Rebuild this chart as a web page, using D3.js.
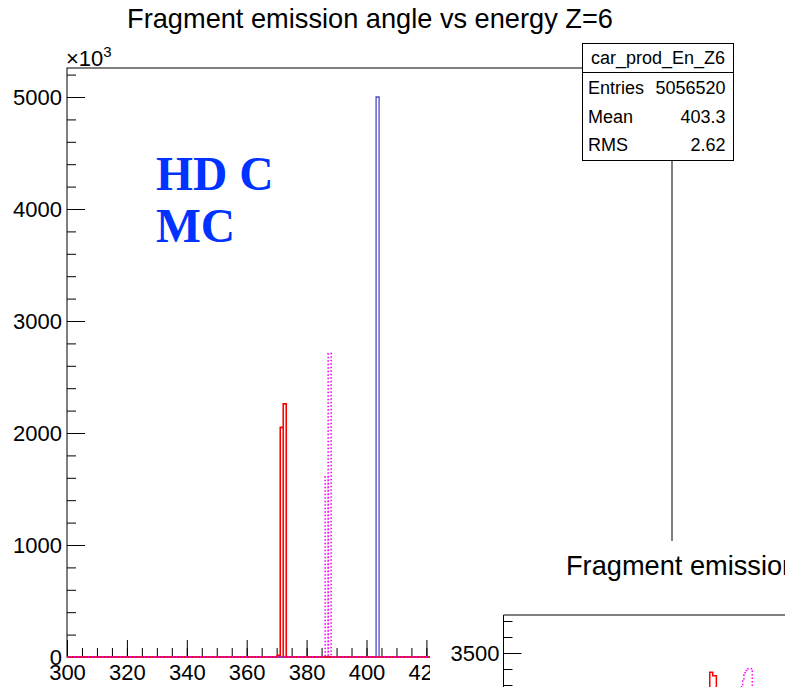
<!doctype html>
<html lang="en">
  <head>
    <meta charset="UTF-8" />
    <title>Fragment emission angle vs energy Z=6</title>
    <script src="https://d3js.org/d3.v7.min.js"></script>
    <style>
      body {
        margin: 0;
        padding: 0;
        background: #ffffff;
      }
      svg {
        display: block;
        font-family: 'Liberation Sans', Arial, sans-serif;
      }
      .tick text {
        font-size: 22px;
        fill: #000000;
      }
      .tick line,
      .domain {
        stroke: #000000;
      }
    </style>
  </head>
  <body>
    <div id="chart"></div>

    <script>
      // Main histogram: x in energy units, counts in thousands (x10^3)
      const xRange = [300, 502]
      const binWidth = 1
      const redBins = [370.2, 371.2, 372.2]
      const redCounts = [15, 2050, 2260]
      const magentaBins = [386.2, 387.2]
      const magentaCounts = [1610, 2710]
      const blueBins = [403.2]
      const blueCounts = [5000]

      // labels right of 420 sit under the second pad, so only these show
      const xTicksMajor = [300, 320, 340, 360, 380, 400, 420, 440, 460, 480, 500]
      const xTickLabels = ['300', '320', '340', '360', '380', '400', '420']
      const yTicksMajor = [0, 1000, 2000, 3000, 4000, 5000]

      // Stats box
      const statsTitle = 'car_prod_En_Z6'
      const statsLabels = ['Entries', 'Mean', 'RMS']
      const statsValues = ['5056520', '403.3', '2.62']

      // Second pad (partly visible in the corner)
      const pad2RedEdges = [368.7, 369.7, 370.9]
      const pad2RedCounts = [3380, 3358]
      const pad2MagentaEdges = [379.3, 379.7, 380.1, 380.5, 381.0, 382.9]
      const pad2MagentaCounts = [3294, 3325, 3362, 3390, 3402]
      const pad2YTicks = [3500]

      const width = 785
      const height = 687

      const svg = d3
        .select('#chart')
        .append('svg')
        .attr('width', width)
        .attr('height', height)

      // ---------- main pad ----------
      const frame = { left: 67, right: 672, top: 68, bottom: 657 }

      const x = d3.scaleLinear().domain(xRange).range([frame.left, frame.right])
      const y = d3.scaleLinear().domain([0, 5259]).range([frame.bottom, frame.top])

      svg
        .append('text')
        .attr('x', 370)
        .attr('y', 28)
        .attr('text-anchor', 'middle')
        .attr('font-size', '27.2px')
        .text('Fragment emission angle vs energy Z=6')

      // exponent label
      const expo = svg.append('text').attr('x', 66).attr('y', 66).attr('font-size', '22px')
      expo.append('tspan').text('\u00d710')
      expo.append('tspan').attr('dy', -9).attr('font-size', '15px').text('3')

      // minor ticks
      svg
        .append('g')
        .attr('transform', `translate(0,${frame.bottom})`)
        .call(
          d3
            .axisBottom(x)
            .tickValues(d3.range(300, 503, 5))
            .tickSizeInner(-9)
            .tickSizeOuter(0)
            .tickFormat('')
        )
        .call((g) => g.select('.domain').remove())

      svg
        .append('g')
        .attr('transform', `translate(0,${frame.bottom})`)
        .call(
          d3
            .axisBottom(x)
            .tickValues(xTicksMajor)
            .tickSizeInner(-17)
            .tickSizeOuter(0)
            .tickPadding(7)
            .tickFormat((d) => (xTickLabels.includes(String(d)) ? String(d) : ''))
        )
        .call((g) => g.select('.domain').remove())

      svg
        .append('g')
        .attr('transform', `translate(${frame.left},0)`)
        .call(
          d3
            .axisLeft(y)
            .tickValues(d3.range(0, 5259, 200))
            .tickSizeInner(-9)
            .tickSizeOuter(0)
            .tickFormat('')
        )
        .call((g) => g.select('.domain').remove())

      svg
        .append('g')
        .attr('transform', `translate(${frame.left},0)`)
        .call(
          d3
            .axisLeft(y)
            .tickValues(yTicksMajor)
            .tickSizeInner(-18)
            .tickSizeOuter(0)
            .tickPadding(5)
            .tickFormat(d3.format('d'))
        )
        .call((g) => g.select('.domain').remove())

      svg
        .append('rect')
        .attr('x', frame.left)
        .attr('y', frame.top)
        .attr('width', frame.right - frame.left)
        .attr('height', frame.bottom - frame.top)
        .attr('fill', 'none')
        .attr('stroke', '#000000')
        .attr('stroke-width', 1)

      // step outline over the whole range, zero outside the filled bins
      function stepPoints(lows, counts, xs, ys, from, to) {
        const pts = [[xs(from), ys(0)]]
        lows.forEach((lo, i) => {
          pts.push([xs(lo), ys(0)])
          pts.push([xs(lo), ys(counts[i])])
          pts.push([xs(lo + binWidth), ys(counts[i])])
          pts.push([xs(lo + binWidth), ys(0)])
        })
        pts.push([xs(to), ys(0)])
        return pts
      }

      const line = d3.line()

      svg
        .append('path')
        .attr('d', line(stepPoints(blueBins, blueCounts, x, y, xRange[0], xRange[1])))
        .attr('fill', 'none')
        .attr('stroke', '#4b4bbf')
        .attr('stroke-width', 1.3)

      svg
        .append('path')
        .attr('d', line(stepPoints(redBins, redCounts, x, y, xRange[0], xRange[1])))
        .attr('fill', 'none')
        .attr('stroke', '#ff0000')
        .attr('stroke-width', 1.6)

      svg
        .append('path')
        .attr('d', line(stepPoints(magentaBins, magentaCounts, x, y, xRange[0], xRange[1])))
        .attr('fill', 'none')
        .attr('stroke', '#ff00ff')
        .attr('stroke-width', 1.6)
        .attr('stroke-dasharray', '1.5,2')

      // label
      const label = svg
        .append('text')
        .attr('font-family', "'Liberation Serif', 'Times New Roman', serif")
        .attr('font-weight', 'bold')
        .attr('font-size', '47.5px')
        .attr('fill', '#0033ff')
      label.append('tspan').attr('x', 156).attr('y', 190).text('HD C')
      label.append('tspan').attr('x', 156).attr('y', 242).text('MC')

      // stats box
      const stats = svg.append('g').attr('transform', 'translate(582.5,43.5)')
      stats
        .append('rect')
        .attr('width', 151)
        .attr('height', 117)
        .attr('fill', '#ffffff')
        .attr('stroke', '#000000')
      stats.append('line').attr('x1', 0).attr('x2', 151).attr('y1', 29).attr('y2', 29).attr('stroke', '#000000')
      stats
        .append('text')
        .attr('x', 75.5)
        .attr('y', 20)
        .attr('text-anchor', 'middle')
        .attr('font-size', '18px')
        .text(statsTitle)
      statsLabels.forEach((lab, i) => {
        const yy = 50.5 + i * 28.7
        stats.append('text').attr('x', 5.5).attr('y', yy).attr('font-size', '18px').text(lab)
        stats
          .append('text')
          .attr('x', 143)
          .attr('y', yy)
          .attr('text-anchor', 'end')
          .attr('font-size', '18px')
          .text(statsValues[i])
      })

      // ---------- second pad ----------
      const pad2 = svg.append('g')
      pad2
        .append('rect')
        .attr('x', 430)
        .attr('y', 541)
        .attr('width', width - 430)
        .attr('height', height - 541)
        .attr('fill', '#ffffff')

      const frame2 = { left: 503.5, top: 615 }
      const x2 = d3.scaleLinear().domain(xRange).range([frame2.left + 0.5, frame2.left + 605.5])
      const y2 = d3.scaleLinear().domain([3000, 3737.5]).range([733, frame2.top])

      pad2
        .append('text')
        .attr('x', 566)
        .attr('y', 575)
        .attr('font-size', '27.2px')
        .text('Fragment emission angle vs energy')

      pad2
        .append('g')
        .attr('transform', `translate(${frame2.left},0)`)
        .call(
          d3
            .axisLeft(y2)
            .tickValues(d3.range(3000, 3737, 100))
            .tickSizeInner(-9)
            .tickSizeOuter(0)
            .tickFormat('')
        )
        .call((g) => g.select('.domain').remove())

      pad2
        .append('g')
        .attr('transform', `translate(${frame2.left},0)`)
        .call(
          d3
            .axisLeft(y2)
            .tickValues(pad2YTicks)
            .tickSizeInner(-18)
            .tickSizeOuter(0)
            .tickPadding(4)
            .tickFormat(d3.format('d'))
        )
        .call((g) => g.select('.domain').remove())

      pad2
        .append('path')
        .attr('d', `M${frame2.left},${height + 20}V${frame2.top}H${width + 20}`)
        .attr('fill', 'none')
        .attr('stroke', '#000000')

      function edgeSteps(edges, counts, xs, ys) {
        const pts = [[xs(edges[0]), ys(3000)]]
        counts.forEach((c, i) => {
          pts.push([xs(edges[i]), ys(c)])
          pts.push([xs(edges[i + 1]), ys(c)])
        })
        pts.push([xs(edges[edges.length - 1]), ys(3000)])
        return pts
      }

      pad2
        .append('path')
        .attr('d', line(edgeSteps(pad2RedEdges, pad2RedCounts, x2, y2)))
        .attr('fill', 'none')
        .attr('stroke', '#ff0000')
        .attr('stroke-width', 1.5)

      pad2
        .append('path')
        .attr('d', line(edgeSteps(pad2MagentaEdges, pad2MagentaCounts, x2, y2)))
        .attr('fill', 'none')
        .attr('stroke', '#ff00ff')
        .attr('stroke-width', 1.5)
        .attr('stroke-dasharray', '1.5,2')
    </script>
  </body>
</html>
